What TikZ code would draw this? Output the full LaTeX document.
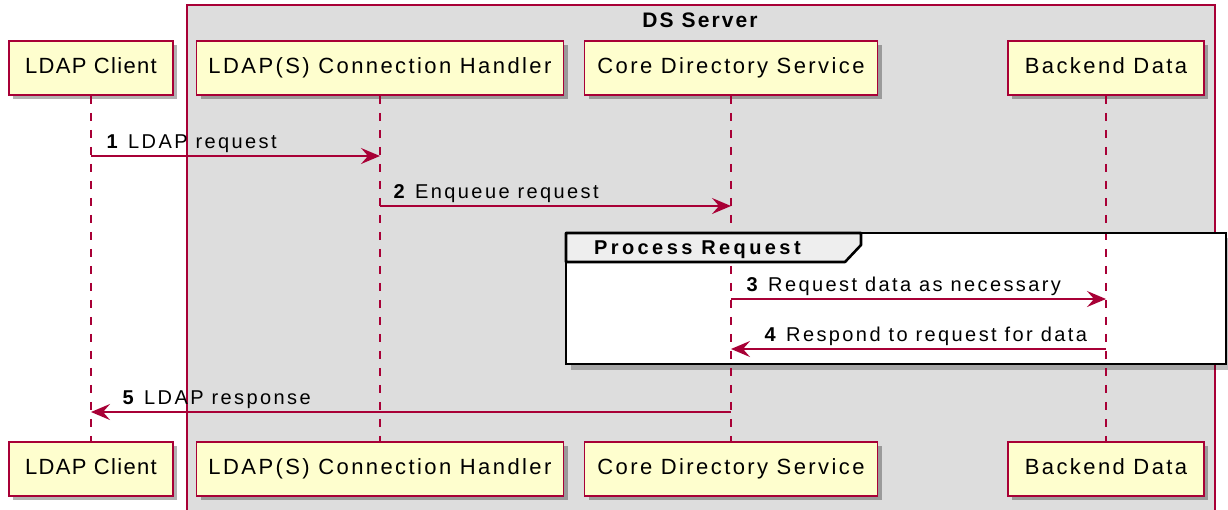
\documentclass[tikz,border=0pt]{standalone}
\usepackage{fontspec}
\setmainfont{Liberation Sans}
\newfontfamily\pfont[LetterSpace=11]{Liberation Sans}
\newfontfamily\cfont[LetterSpace=6]{Liberation Sans}
\newfontfamily\mfont[LetterSpace=12]{Liberation Sans}
\newfontfamily\tfont[LetterSpace=10]{Liberation Sans}
\newfontfamily\gfont[LetterSpace=17]{Liberation Sans}
\usetikzlibrary{arrows.meta,shadows,calc}
\definecolor{pred}{HTML}{A80036}
\definecolor{pfill}{HTML}{FEFECE}
\definecolor{boxgray}{HTML}{DDDDDD}
\definecolor{tabgray}{HTML}{EEEEEE}
\begin{document}
\begin{tikzpicture}[x=1pt,y=-1pt,
  part/.style={draw=pred, fill=pfill, line width=1.8pt, minimum height=54pt,
    inner sep=0pt, text height=16pt, text depth=4.5pt,
    font=\pfont\fontsize{22}{26}\selectfont,
    drop shadow={shadow xshift=4pt, shadow yshift=-4pt, opacity=0.3, fill=black}},
  life/.style={draw=pred, line width=1.4pt, dash pattern=on 8.5pt off 8.5pt},
  msg/.style={draw=pred, line width=1.4pt, -{Stealth[length=19pt,width=16pt,inset=7pt]}},
  mlab/.style={font=\mfont\fontsize{20}{24}\selectfont, inner sep=0pt, anchor=base west},
  dsbox/.style={draw=pred, fill=boxgray, line width=1.4pt},
]
\useasboundingbox (0,0) rectangle (1228,509);
\fill[white] (0,0) rectangle (1228,509);
% DS Server box
\draw[dsbox] (187,5) rectangle (1215,530);
\node[font=\tfont\bfseries\fontsize{21}{25}\selectfont, anchor=base, inner sep=0pt] (dstitle) at (700,27) {DS Server};

% participants top
\node[part, minimum width=164pt, font=\cfont\fontsize{22}{26}\selectfont] (cli) at (91,68) {LDAP Client};
\node[part, minimum width=367pt] (ch) at (380,68) {LDAP(S) Connection Handler};
\node[part, minimum width=293pt] (core) at (731,68) {Core Directory Service};
\node[part, minimum width=196pt] (back) at (1106,68) {Backend Data};
% participants bottom
\node[part, minimum width=164pt, font=\cfont\fontsize{22}{26}\selectfont] (clib) at (91,469) {LDAP Client};
\node[part, minimum width=367pt] (chb) at (380,469) {LDAP(S) Connection Handler};
\node[part, minimum width=293pt] (coreb) at (731,469) {Core Directory Service};
\node[part, minimum width=196pt] (backb) at (1106,469) {Backend Data};

% group frame body
\fill[black, opacity=0.25] (571,238) rectangle (1232,370);
\fill[white] (566,233) rectangle (1226,364);

% lifelines
\draw[life] (cli.south) -- (clib.north);
\draw[life] (ch.south) -- (chb.north);
\draw[life] (core.south) -- (coreb.north);
\draw[life] (back.south) -- (backb.north);

% group tab and outline
\filldraw[fill=tabgray, draw=black, line width=2.6pt, line join=round]
  (566,233) -- (861,233) -- (861,245) -- (845,262) -- (566,262) -- cycle;
\draw[black, line width=2.6pt] (566,233) rectangle (1226,364);
\node[font=\gfont\bfseries\fontsize{20}{24}\selectfont, anchor=base west, inner sep=0pt] (grp) at (594,254) {Process Request};

% messages
\draw[msg] (cli |- 0,156) -- (ch |- 0,156)
  node[mlab, pos=0, xshift=15pt, yshift=8pt] (m1) {\textbf{1} LDAP request};
\draw[msg] (ch |- 0,206) -- (core |- 0,206)
  node[mlab, pos=0, xshift=13pt, yshift=8pt] (m2) {\textbf{2} Enqueue request};
\draw[msg] (core |- 0,299) -- (back |- 0,299)
  node[mlab, pos=0, xshift=15pt, yshift=8pt] (m3) {\textbf{3} Request data as necessary};
\draw[msg] (back |- 0,349) -- (core |- 0,349)
  node[mlab, pos=1, xshift=33pt, yshift=8pt] (m4) {\textbf{4} Respond to request for data};
\draw[msg] (core |- 0,412) -- (cli |- 0,412)
  node[mlab, pos=1, xshift=31pt, yshift=8pt] (m5) {\textbf{5} LDAP response};
\end{tikzpicture}
\end{document}
